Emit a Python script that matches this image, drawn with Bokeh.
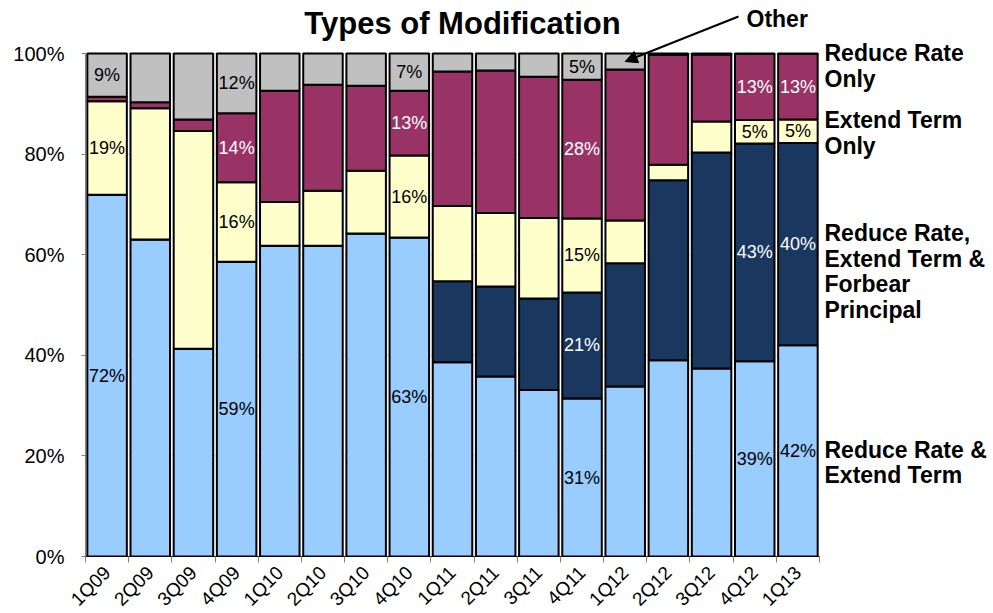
import math
from bokeh.plotting import figure
from bokeh.models import (ColumnDataSource, Range1d, FixedTicker, PrintfTickFormatter,
                          Label, Arrow, NormalHead)
from bokeh.core.properties import value
from bokeh.embed import file_html
from bokeh.resources import INLINE

# ---------------- data (percent of modifications) ----------------
quarters = ["1Q09", "2Q09", "3Q09", "4Q09", "1Q10", "2Q10", "3Q10", "4Q10", "1Q11",
            "2Q11", "3Q11", "4Q11", "1Q12", "2Q12", "3Q12", "4Q12", "1Q13"]
reduce_rate_extend_term = [71.9, 63.0, 41.3, 58.6, 61.8, 61.8, 64.2, 63.4, 38.6,
                           35.8, 33.1, 31.4, 33.8, 39.0, 37.4, 38.8, 42.0]
reduce_rate_extend_forbear = [0.0, 0.0, 0.0, 0.0, 0.0, 0.0, 0.0, 0.0, 16.1,
                              17.9, 18.2, 21.1, 24.5, 35.8, 42.9, 43.3, 40.2]
extend_term_only = [18.6, 26.1, 43.3, 15.8, 8.7, 10.9, 12.5, 16.3, 15.0,
                    14.6, 16.0, 14.7, 8.5, 3.1, 6.2, 4.7, 4.7]
reduce_rate_only = [0.9, 1.2, 2.3, 13.7, 22.1, 21.1, 16.9, 12.9, 26.7,
                    28.3, 28.1, 27.6, 30.0, 21.8, 13.3, 13.1, 13.0]
other = [8.6, 9.7, 13.1, 11.9, 7.4, 6.2, 6.4, 7.4, 3.6,
         3.4, 4.6, 5.2, 3.2, 0.3, 0.2, 0.1, 0.1]
labeled_quarters = ["1Q09", "4Q09", "4Q10", "4Q11", "4Q12", "1Q13"]
y_ticks = [0, 20, 40, 60, 80, 100]

series_names = ["Reduce Rate & Extend Term",
                "Reduce Rate, Extend Term & Forbear Principal",
                "Extend Term Only", "Reduce Rate Only", "Other"]
series_values = [reduce_rate_extend_term, reduce_rate_extend_forbear,
                 extend_term_only, reduce_rate_only, other]
series_colors = ["#99CCFF", "#1A3760", "#FFFFCC", "#993366", "#C0C0C0"]
label_colors = ["black", "white", "black", "white", "black"]

FONT = "Liberation Sans"

# ---------------- layout constants (pixel geometry of the reference) ----------------
W, H = 993, 613
PLOT_L, PLOT_R, PLOT_T, PLOT_B = 85, 819, 53, 556   # bar area in page px
n = len(quarters)
slot = (PLOT_R - PLOT_L) / n
x_max = -0.5 + (W - PLOT_L) / slot
y_max = PLOT_B * 100.0 / (PLOT_B - PLOT_T)
BASE_CORR = 0.37   # empirical shift of Label baseline (fraction of font size)

def sx(px):  # page x pixel -> data x
    return (px - PLOT_L) / slot - 0.5

def sy(py):  # page y pixel -> data y
    return (PLOT_B - py) * 100.0 / (PLOT_B - PLOT_T)

def text_label(text, px, baseline_py, size, align="left"):
    return Label(x=sx(px), y=sy(baseline_py - BASE_CORR * size), text=text,
                 text_font=FONT, text_font_size=f"{size}px", text_font_style="bold",
                 text_color="black", text_align=align, text_baseline="alphabetic")

p = figure(frame_width=W - PLOT_L, frame_height=PLOT_B,
           min_border_left=PLOT_L, min_border_top=0,
           min_border_right=0, min_border_bottom=H - PLOT_B,
           x_range=Range1d(-0.5, x_max), y_range=Range1d(0, y_max),
           output_backend="svg", toolbar_location=None,
           background_fill_color="white", border_fill_color="white")
p.outline_line_color = None
p.xgrid.grid_line_color = None
p.ygrid.grid_line_color = None

# ---------------- horizontal gridlines ----------------
p.segment(x0=[-0.5] * len(y_ticks), x1=[n - 0.5] * len(y_ticks), y0=y_ticks, y1=y_ticks,
          line_color="#DDDDDD", line_width=1, level="underlay")

# ---------------- stacked bars ----------------
xs = list(range(n))
bottoms = [0.0] * n
seg_info = []
for name, vals, col in zip(series_names, series_values, series_colors):
    tops = [b + v for b, v in zip(bottoms, vals)]
    src = ColumnDataSource(dict(x=xs, bottom=bottoms, top=tops))
    p.vbar(x="x", bottom="bottom", top="top", width=0.915, source=src,
           fill_color=col, line_color="black", line_width=2)
    seg_info.append((bottoms, tops, vals))
    bottoms = tops

# ---------------- value labels ----------------
lx, ly, lt, lc = [], [], [], []
for si, (bots, tops, vals) in enumerate(seg_info):
    for i, q in enumerate(quarters):
        if q in labeled_quarters and vals[i] >= 2:
            lx.append(i)
            ly.append((bots[i] + tops[i]) / 2)
            lt.append(f"{round(vals[i])}%")
            lc.append(label_colors[si])
p.text(x="x", y="y", text="t", text_color="c",
       source=ColumnDataSource(dict(x=lx, y=ly, t=lt, c=lc)),
       text_font=value(FONT), text_font_size="18px",
       text_align="center", text_baseline="middle")

# ---------------- axes ----------------
p.yaxis.bounds = (0, 100)
p.yaxis.ticker = FixedTicker(ticks=y_ticks)
p.yaxis.formatter = PrintfTickFormatter(format="%d%%")
p.yaxis.major_label_text_font = FONT
p.yaxis.major_label_text_font_size = "20px"
p.yaxis.major_label_text_color = "black"
p.yaxis.major_tick_out = 4
p.yaxis.major_tick_in = 0
p.yaxis.minor_tick_line_color = None
p.yaxis.major_tick_line_color = "#808080"
p.yaxis.axis_line_color = "#808080"
p.yaxis.major_label_standoff = 17

p.xaxis.bounds = (-0.5, n - 0.5)
p.xaxis.ticker = FixedTicker(ticks=xs, minor_ticks=[i - 0.5 for i in range(n + 1)])
p.xaxis.major_label_overrides = {i: q for i, q in enumerate(quarters)}
p.xaxis.major_label_orientation = math.pi / 4
p.xaxis.major_label_text_font = FONT
p.xaxis.major_label_text_font_size = "19px"
p.xaxis.major_label_text_color = "black"
p.xaxis.major_tick_line_color = None
p.xaxis.major_tick_out = 0
p.xaxis.major_tick_in = 0
p.xaxis.minor_tick_out = 6
p.xaxis.minor_tick_in = 0
p.xaxis.minor_tick_line_color = "#808080"
p.xaxis.axis_line_color = "black"
p.xaxis.major_label_standoff = 7

# ---------------- title & annotations ----------------
p.add_layout(text_label("Types of Modification", 462, 34, 31, align="center"))

i_other = quarters.index("1Q12")
other_mid = 100 - other[i_other] / 2
p.add_layout(Arrow(x_start=sx(738), y_start=sy(16), x_end=i_other, y_end=other_mid,
                   line_color="black", line_width=2,
                   end=NormalHead(size=12, fill_color="black", line_color="black")))
p.add_layout(text_label("Other", 746, 27, 23))

right_labels = [
    (["Reduce Rate", "Only"], [61, 87]),
    (["Extend Term", "Only"], [128, 154]),
    (["Reduce Rate,", "Extend Term &", "Forbear", "Principal"], [241, 267, 292, 318]),
    (["Reduce Rate &", "Extend Term"], [458, 483]),
]
for lines, baselines in right_labels:
    for line, b in zip(lines, baselines):
        p.add_layout(text_label(line, 824, b, 23))

open("out.html", "w").write(file_html(p, INLINE))
